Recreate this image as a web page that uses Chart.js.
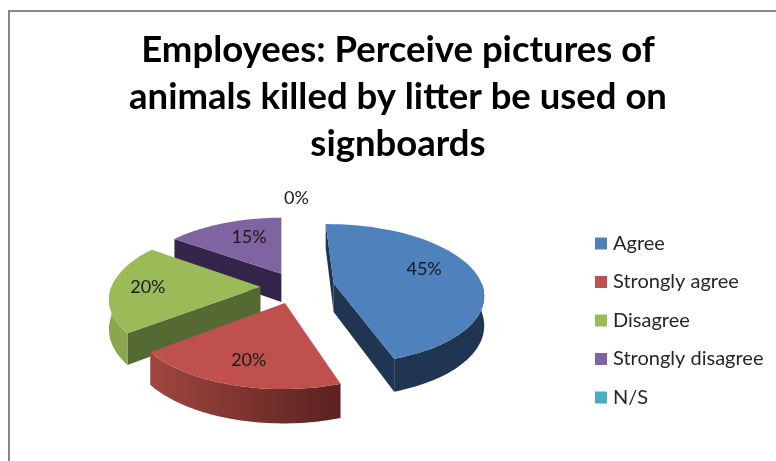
<!DOCTYPE html>
<html>
<head>
<meta charset="utf-8">
<style>
html,body{margin:0;padding:0;background:#fff;overflow:hidden;width:776px;height:461px}
#frame{position:absolute;left:8px;top:10px;right:0;bottom:0;border-left:2px solid #868686;border-top:2px solid #868686}
canvas{position:absolute;left:0;top:0}
</style>
<script src="https://cdn.jsdelivr.net/npm/chart.js@4"></script>
</head>
<body>
<div id="frame"></div>
<canvas id="c" width="776" height="461"></canvas>
<script>
const titleLines = ["Employees: Perceive pictures of", "animals killed by litter be used on", "signboards"];
const categories = ["Agree", "Strongly agree", "Disagree", "Strongly disagree", "N/S"];
const percentages = [45, 20, 20, 15, 0];
const topColors = ["#4f81bd", "#c0504d", "#9bbb59", "#8064a2", "#4bacc6"];
const edgeColors = ["#1f3552", "#5a2220", "#556a32", "#33264a", "#2a6070"];
const rimLeft = ["#1f3552", "#a0463f", "#8aa64f", "#33264a", "#2a6070"];
const rimRight = ["#1f3552", "#5a2220", "#8aa64f", "#33264a", "#2a6070"];
const sliceOffsets = [39, 35, 35, 31, 0];
const labelNudge = [[5,-7],[-6,10],[-23,0],[4,-4],[0,0]];

const TILT = 0.475, PERSP = 0.15, DEPTH = 29, STEPS = 48, SHIFT_X = -6, SHIFT_Y = -28;

const pie3d = {
  id: 'pie3d',
  afterLayout(chart) {
    chart.legend.left = 580.5;
    chart.legend.top = 215;
  },
  beforeDatasetsDraw(chart) {
    const ctx = chart.ctx;
    const arcs = chart.getDatasetMeta(0).data;
    const proj = (el, a, r, drop) => {
      const off = el.options.offset;
      const mid = (el.startAngle + el.endAngle) / 2;
      const X = Math.cos(mid) * off + Math.cos(a) * r;
      const Y = Math.sin(mid) * off + Math.sin(a) * r;
      const s = 1 + PERSP * Y / el.outerRadius;
      return [el.x + SHIFT_X + X * s, el.y + SHIFT_Y + Y * TILT * s + (drop ? DEPTH * s : 0)];
    };
    const poly = (pts, fill) => {
      ctx.beginPath();
      pts.forEach((p, i) => i ? ctx.lineTo(p[0], p[1]) : ctx.moveTo(p[0], p[1]));
      ctx.closePath();
      ctx.fillStyle = fill;
      ctx.fill();
    };
    const order = arcs.map((el, i) => i).sort((a, b) => {
      const ya = Math.sin((arcs[a].startAngle + arcs[a].endAngle) / 2);
      const yb = Math.sin((arcs[b].startAngle + arcs[b].endAngle) / 2);
      return ya - yb;
    });
    order.forEach(i => {
      const el = arcs[i];
      if (el.endAngle - el.startAngle < 1e-4) return;
      const R = el.outerRadius, sa = el.startAngle, ea = el.endAngle;
      // radial faces that look at the viewer
      [[sa, Math.cos(sa) < 0], [ea, Math.cos(ea) > 0]].forEach(([a, vis]) => {
        if (!vis) return;
        poly([proj(el, a, 0), proj(el, a, R), proj(el, a, R, true), proj(el, a, 0, true)], edgeColors[i]);
      });
      // outer rim, front half only
      const f0 = Math.max(sa, 0), f1 = Math.min(ea, Math.PI);
      if (f1 > f0) {
        const top = [], bot = [];
        for (let k = 0; k <= STEPS; k++) {
          const a = f0 + (f1 - f0) * k / STEPS;
          top.push(proj(el, a, R));
          bot.unshift(proj(el, a, R, true));
        }
        const xs = top.map(p => p[0]);
        const g = ctx.createLinearGradient(Math.min(...xs), 0, Math.max(...xs), 0);
        g.addColorStop(0, rimLeft[i]);
        g.addColorStop(1, rimRight[i]);
        poly(top.concat(bot), g);
      }
      // top face
      const face = [proj(el, sa, 0)];
      for (let k = 0; k <= STEPS; k++) face.push(proj(el, sa + (ea - sa) * k / STEPS, R));
      poly(face, topColors[i]);
    });
    // value labels
    ctx.font = '18px Lato';
    ctx.fillStyle = '#1a1a1a';
    ctx.textAlign = 'center';
    ctx.textBaseline = 'middle';
    arcs.forEach((el, i) => {
      const mid = (el.startAngle + el.endAngle) / 2;
      let p;
      if (el.endAngle - el.startAngle < 1e-4) {
        p = [el.x + SHIFT_X + 1, el.y + SHIFT_Y - 88];
      } else {
        p = proj(el, mid, el.outerRadius * 0.6);
        p = [p[0] + labelNudge[i][0], p[1] + labelNudge[i][1]];
      }
      ctx.fillText(percentages[i] + '%', p[0], p[1]);
    });
    return false;
  }
};

new Chart(document.getElementById('c'), {
  type: 'pie',
  data: {
    labels: categories,
    datasets: [{
      data: percentages,
      backgroundColor: topColors,
      borderWidth: 0,
      offset: sliceOffsets
    }]
  },
  options: {
    responsive: false,
    animation: false,
    rotation: -1,
    radius: 149,
    layout: { padding: { left: 20, right: 0, top: 0, bottom: 0 } },
    plugins: {
      tooltip: { enabled: false },
      title: {
        display: true,
        text: titleLines,
        color: '#000',
        font: { family: 'Lato', weight: 'bold', size: 36.5, lineHeight: 47 / 36.5 },
        padding: { top: 27, bottom: 0 }
      },
      legend: {
        position: 'right',
        align: 'start',
        maxWidth: 206,
        labels: {
          color: '#262626',
          font: { family: 'Lato', size: 20 },
          padding: 18.5,
          boxWidth: 4,
          boxHeight: 4,
          generateLabels(chart) {
            return Chart.overrides.pie.plugins.legend.labels.generateLabels(chart).map(l => {
              l.strokeStyle = l.fillStyle;
              l.lineWidth = 8;
              return l;
            });
          }
        }
      }
    }
  },
  plugins: [pie3d]
});
</script>
</body>
</html>
